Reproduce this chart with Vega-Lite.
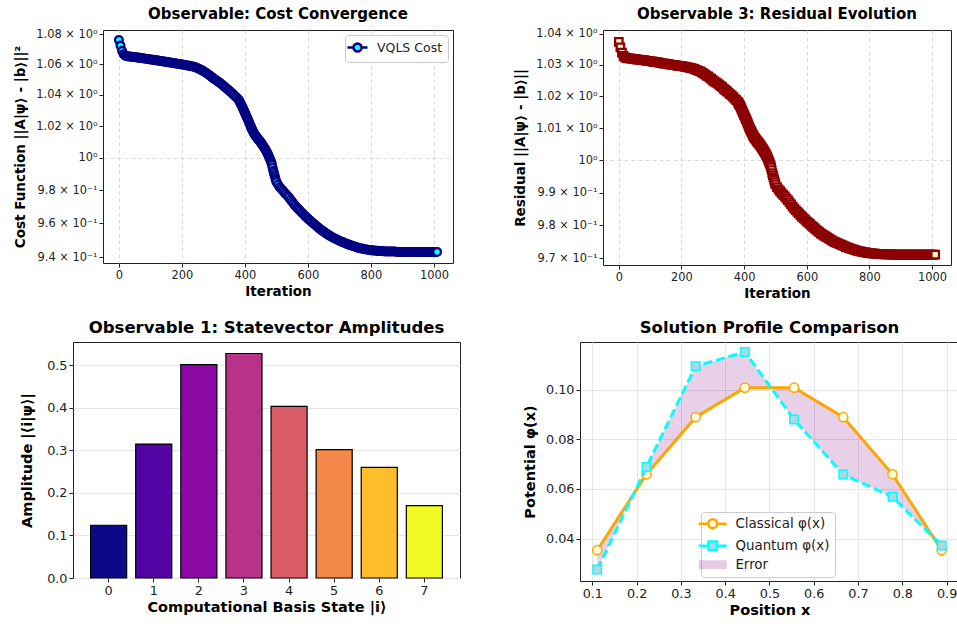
{
"$schema": "https://vega.github.io/schema/vega-lite/v6.json",
"background": "white",
"padding": {"left": 13, "top": 6, "right": 0, "bottom": 0},
"config": {
  "font": "DejaVu Sans",
  "view": {"stroke": "#222222", "strokeWidth": 1},
  "axis": {"labelFont": "DejaVu Sans", "labelColor": "#222222", "titleFont": "DejaVu Sans", "titleFontWeight": "bold", "titleColor": "#000000", "domain": false, "tickColor": "#222222", "tickSize": 4, "tickWidth": 1, "labelPadding": 2, "labelFlush": false, "labelOverlap": false},
  "title": {"font": "DejaVu Sans", "fontWeight": "bold", "color": "#000000", "offset": 6},
  "legend": {"labelFont": "DejaVu Sans", "labelColor": "#222222"}
},
"datasets": {
  "conv": [
{"i":0,"c":1.0762,"r":1.0374},{"i":5,"c":1.0725,"r":1.0356},{"i":10,"c":1.0690,"r":1.0339},{"i":15,"c":1.0668,"r":1.0329},{"i":20,"c":1.0658,"r":1.0324},{"i":25,"c":1.0655,"r":1.0322},{"i":30,"c":1.0653,"r":1.0321},{"i":35,"c":1.0652,"r":1.0321},{"i":40,"c":1.0650,"r":1.0320},{"i":45,"c":1.0649,"r":1.0319},{"i":50,"c":1.0648,"r":1.0319},{"i":55,"c":1.0647,"r":1.0318},{"i":60,"c":1.0645,"r":1.0317},{"i":65,"c":1.0644,"r":1.0317},{"i":70,"c":1.0642,"r":1.0316},{"i":75,"c":1.0641,"r":1.0315},{"i":80,"c":1.0639,"r":1.0315},{"i":85,"c":1.0638,"r":1.0314},{"i":90,"c":1.0636,"r":1.0313},{"i":95,"c":1.0635,"r":1.0313},{"i":100,"c":1.0633,"r":1.0312},{"i":105,"c":1.0631,"r":1.0311},{"i":110,"c":1.0630,"r":1.0310},{"i":115,"c":1.0628,"r":1.0309},{"i":120,"c":1.0627,"r":1.0309},{"i":125,"c":1.0625,"r":1.0308},{"i":130,"c":1.0623,"r":1.0307},{"i":135,"c":1.0622,"r":1.0306},{"i":140,"c":1.0620,"r":1.0305},{"i":145,"c":1.0618,"r":1.0304},{"i":150,"c":1.0617,"r":1.0304},{"i":155,"c":1.0615,"r":1.0303},{"i":160,"c":1.0613,"r":1.0302},{"i":165,"c":1.0612,"r":1.0301},{"i":170,"c":1.0610,"r":1.0300},{"i":175,"c":1.0608,"r":1.0299},{"i":180,"c":1.0607,"r":1.0299},{"i":185,"c":1.0605,"r":1.0298},{"i":190,"c":1.0603,"r":1.0297},{"i":195,"c":1.0602,"r":1.0297},{"i":200,"c":1.0600,"r":1.0296},{"i":205,"c":1.0598,"r":1.0295},{"i":210,"c":1.0596,"r":1.0294},{"i":215,"c":1.0594,"r":1.0293},{"i":220,"c":1.0592,"r":1.0292},{"i":225,"c":1.0590,"r":1.0291},{"i":230,"c":1.0588,"r":1.0290},{"i":235,"c":1.0586,"r":1.0289},{"i":240,"c":1.0583,"r":1.0287},{"i":245,"c":1.0579,"r":1.0285},{"i":250,"c":1.0575,"r":1.0283},{"i":255,"c":1.0570,"r":1.0281},{"i":260,"c":1.0565,"r":1.0279},{"i":265,"c":1.0559,"r":1.0276},{"i":270,"c":1.0553,"r":1.0273},{"i":275,"c":1.0547,"r":1.0270},{"i":280,"c":1.0540,"r":1.0266},{"i":285,"c":1.0532,"r":1.0263},{"i":290,"c":1.0525,"r":1.0259},{"i":295,"c":1.0516,"r":1.0255},{"i":300,"c":1.0508,"r":1.0251},{"i":305,"c":1.0501,"r":1.0247},{"i":310,"c":1.0494,"r":1.0244},{"i":315,"c":1.0487,"r":1.0241},{"i":320,"c":1.0480,"r":1.0237},{"i":325,"c":1.0471,"r":1.0233},{"i":330,"c":1.0463,"r":1.0229},{"i":335,"c":1.0454,"r":1.0224},{"i":340,"c":1.0445,"r":1.0220},{"i":345,"c":1.0436,"r":1.0216},{"i":350,"c":1.0428,"r":1.0212},{"i":355,"c":1.0419,"r":1.0207},{"i":360,"c":1.0410,"r":1.0203},{"i":365,"c":1.0400,"r":1.0198},{"i":370,"c":1.0390,"r":1.0193},{"i":375,"c":1.0380,"r":1.0188},{"i":380,"c":1.0370,"r":1.0183},
{"i":382,"c":1.0362,"r":1.0179},{"i":384,"c":1.0354,"r":1.0175},{"i":386,"c":1.0346,"r":1.0172},{"i":388,"c":1.0338,"r":1.0168},{"i":390,"c":1.0330,"r":1.0164},{"i":392,"c":1.0321,"r":1.0159},{"i":394,"c":1.0312,"r":1.0155},{"i":396,"c":1.0303,"r":1.0150},{"i":398,"c":1.0294,"r":1.0146},{"i":400,"c":1.0285,"r":1.0141},{"i":402,"c":1.0276,"r":1.0137},{"i":404,"c":1.0267,"r":1.0133},{"i":406,"c":1.0258,"r":1.0128},{"i":408,"c":1.0249,"r":1.0124},{"i":410,"c":1.0240,"r":1.0119},{"i":412,"c":1.0230,"r":1.0114},{"i":414,"c":1.0220,"r":1.0109},{"i":416,"c":1.0210,"r":1.0104},{"i":418,"c":1.0200,"r":1.0099},{"i":420,"c":1.0190,"r":1.0095},{"i":422,"c":1.0182,"r":1.0091},{"i":424,"c":1.0174,"r":1.0087},{"i":426,"c":1.0166,"r":1.0083},{"i":428,"c":1.0158,"r":1.0079},{"i":430,"c":1.0150,"r":1.0075},{"i":432,"c":1.0144,"r":1.0072},{"i":434,"c":1.0139,"r":1.0069},{"i":436,"c":1.0133,"r":1.0066},{"i":438,"c":1.0128,"r":1.0064},{"i":440,"c":1.0122,"r":1.0061},{"i":442,"c":1.0117,"r":1.0058},{"i":444,"c":1.0112,"r":1.0056},{"i":446,"c":1.0108,"r":1.0054},{"i":448,"c":1.0103,"r":1.0051},{"i":450,"c":1.0098,"r":1.0049},{"i":452,"c":1.0092,"r":1.0046},{"i":454,"c":1.0086,"r":1.0043},{"i":456,"c":1.0080,"r":1.0040},{"i":458,"c":1.0074,"r":1.0037},{"i":460,"c":1.0068,"r":1.0034},{"i":462,"c":1.0062,"r":1.0031},{"i":464,"c":1.0055,"r":1.0027},{"i":466,"c":1.0049,"r":1.0024},{"i":468,"c":1.0042,"r":1.0021},{"i":470,"c":1.0035,"r":1.0017},{"i":472,"c":1.0026,"r":1.0013},{"i":474,"c":1.0018,"r":1.0009},{"i":476,"c":1.0009,"r":1.0005},{"i":478,"c":0.9999,"r":0.9999},{"i":480,"c":0.9990,"r":0.9995},{"i":482,"c":0.9980,"r":0.9990},{"i":484,"c":0.9970,"r":0.9985},{"i":486,"c":0.9956,"r":0.9978},{"i":488,"c":0.9938,"r":0.9969},{"i":490,"c":0.9920,"r":0.9960},{"i":492,"c":0.9906,"r":0.9953},{"i":494,"c":0.9892,"r":0.9946},{"i":496,"c":0.9878,"r":0.9939},{"i":498,"c":0.9864,"r":0.9932},{"i":500,"c":0.9850,"r":0.9925},
{"i":505,"c":0.9835,"r":0.9917},{"i":510,"c":0.9820,"r":0.9910},{"i":515,"c":0.9809,"r":0.9904},{"i":520,"c":0.9798,"r":0.9898},{"i":525,"c":0.9787,"r":0.9893},{"i":530,"c":0.9777,"r":0.9888},{"i":535,"c":0.9766,"r":0.9882},{"i":540,"c":0.9755,"r":0.9877},{"i":545,"c":0.9742,"r":0.9870},{"i":550,"c":0.9730,"r":0.9864},{"i":555,"c":0.9717,"r":0.9857},{"i":560,"c":0.9705,"r":0.9851},{"i":565,"c":0.9695,"r":0.9846},{"i":570,"c":0.9685,"r":0.9841},{"i":575,"c":0.9675,"r":0.9836},{"i":580,"c":0.9665,"r":0.9831},{"i":585,"c":0.9656,"r":0.9826},{"i":590,"c":0.9646,"r":0.9821},{"i":595,"c":0.9637,"r":0.9817},{"i":600,"c":0.9628,"r":0.9812},{"i":605,"c":0.9620,"r":0.9808},{"i":610,"c":0.9611,"r":0.9804},{"i":615,"c":0.9603,"r":0.9799},{"i":620,"c":0.9595,"r":0.9795},{"i":625,"c":0.9587,"r":0.9791},{"i":630,"c":0.9579,"r":0.9787},{"i":635,"c":0.9571,"r":0.9783},{"i":640,"c":0.9563,"r":0.9779},{"i":645,"c":0.9556,"r":0.9775},{"i":650,"c":0.9550,"r":0.9772},{"i":655,"c":0.9543,"r":0.9769},{"i":660,"c":0.9537,"r":0.9766},{"i":665,"c":0.9531,"r":0.9763},{"i":670,"c":0.9525,"r":0.9760},{"i":675,"c":0.9520,"r":0.9757},{"i":680,"c":0.9514,"r":0.9754},{"i":685,"c":0.9509,"r":0.9751},{"i":690,"c":0.9505,"r":0.9749},{"i":695,"c":0.9500,"r":0.9747},{"i":700,"c":0.9496,"r":0.9745},{"i":705,"c":0.9492,"r":0.9743},{"i":710,"c":0.9488,"r":0.9741},{"i":715,"c":0.9484,"r":0.9739},{"i":720,"c":0.9480,"r":0.9737},{"i":725,"c":0.9476,"r":0.9734},{"i":730,"c":0.9473,"r":0.9733},{"i":735,"c":0.9469,"r":0.9731},{"i":740,"c":0.9466,"r":0.9729},{"i":745,"c":0.9463,"r":0.9728},{"i":750,"c":0.9460,"r":0.9726},{"i":755,"c":0.9457,"r":0.9725},{"i":760,"c":0.9454,"r":0.9723},{"i":765,"c":0.9452,"r":0.9722},{"i":770,"c":0.9450,"r":0.9721},{"i":775,"c":0.9448,"r":0.9720},{"i":780,"c":0.9446,"r":0.9719},{"i":785,"c":0.9444,"r":0.9718},{"i":790,"c":0.9443,"r":0.9718},{"i":795,"c":0.9441,"r":0.9716},{"i":800,"c":0.9440,"r":0.9716},{"i":805,"c":0.9439,"r":0.9715},{"i":810,"c":0.9438,"r":0.9715},{"i":815,"c":0.9437,"r":0.9714},{"i":820,"c":0.9436,"r":0.9714},{"i":825,"c":0.9435,"r":0.9713},{"i":830,"c":0.9435,"r":0.9713},{"i":835,"c":0.9435,"r":0.9713},{"i":840,"c":0.9434,"r":0.9713},{"i":845,"c":0.9433,"r":0.9712},{"i":850,"c":0.9433,"r":0.9712},{"i":855,"c":0.9433,"r":0.9712},{"i":860,"c":0.9432,"r":0.9712},{"i":865,"c":0.9432,"r":0.9712},{"i":870,"c":0.9432,"r":0.9712},{"i":875,"c":0.9432,"r":0.9712},{"i":880,"c":0.9431,"r":0.9711},{"i":885,"c":0.9430,"r":0.9711},{"i":890,"c":0.9430,"r":0.9711},{"i":895,"c":0.9430,"r":0.9711},{"i":900,"c":0.9430,"r":0.9711},{"i":905,"c":0.9430,"r":0.9711},{"i":910,"c":0.9430,"r":0.9711},{"i":915,"c":0.9430,"r":0.9711},{"i":920,"c":0.9430,"r":0.9711},{"i":925,"c":0.9430,"r":0.9711},{"i":930,"c":0.9430,"r":0.9711},{"i":935,"c":0.9430,"r":0.9711},{"i":940,"c":0.9430,"r":0.9711},{"i":945,"c":0.9430,"r":0.9711},{"i":950,"c":0.9430,"r":0.9711},{"i":955,"c":0.9430,"r":0.9711},{"i":960,"c":0.9430,"r":0.9711},{"i":965,"c":0.9430,"r":0.9711},{"i":970,"c":0.9430,"r":0.9711},{"i":975,"c":0.9430,"r":0.9711},{"i":980,"c":0.9430,"r":0.9711},{"i":985,"c":0.9430,"r":0.9711},{"i":990,"c":0.9430,"r":0.9711},{"i":995,"c":0.9430,"r":0.9711},{"i":1000,"c":0.9430,"r":0.9711},{"i":1005,"c":0.9430,"r":0.9711},{"i":1010,"c":0.9430,"r":0.9711}
  ],
  "amp": [
{"i":0,"a":0.124},{"i":1,"a":0.315},{"i":2,"a":0.502},{"i":3,"a":0.528},{"i":4,"a":0.4035},{"i":5,"a":0.302},{"i":6,"a":0.260},{"i":7,"a":0.170}
  ],
  "prof": [
{"x":0.1111,"cl":0.0353,"qu":0.0275},{"x":0.2222,"cl":0.0659,"qu":0.0688},{"x":0.3333,"cl":0.0889,"qu":0.1094},{"x":0.4444,"cl":0.1008,"qu":0.1152},{"x":0.5556,"cl":0.1008,"qu":0.0880},{"x":0.6667,"cl":0.0889,"qu":0.0658},{"x":0.7778,"cl":0.0659,"qu":0.0568},{"x":0.8889,"cl":0.0353,"qu":0.0372}
  ],
  "blank": [{"v": 0}]
},
"spacing": 18,
"resolve": {"scale": {"color": "independent"}, "legend": {"color": "independent"}},
"vconcat": [
 {
  "hconcat": [
   {
    "width": 30, "height": 1,
    "view": {"stroke": null},
    "data": {"name": "blank"},
    "mark": {"type": "point", "opacity": 0},
    "encoding": {}
   },
   {
    "hconcat": [
     {
      "width": 350, "height": 233,
      "title": {"text": "Observable: Cost Convergence", "fontSize": 15},
      "data": {"name": "conv"},
      "layer": [
       {
        "mark": {"type": "line", "strokeWidth": 2.5},
        "encoding": {
         "x": {"field": "i", "type": "quantitative", "scale": {"domain": [-50.5, 1060.5], "nice": false, "zero": false},
               "axis": {"values": [0,200,400,600,800,1000], "format": "d", "title": "Iteration", "labelFontSize": 11.4, "titleFontSize": 13.5, "titlePadding": 4, "grid": true, "gridDash": [4,3], "gridColor": "#dadada"}},
         "y": {"field": "c", "type": "quantitative", "scale": {"type": "log", "domain": [0.9365, 1.083], "nice": false, "zero": false},
               "axis": {"values": [0.94,0.96,0.98,1,1.02,1.04,1.06,1.08], "title": "Cost Function ||A|ψ⟩ - |b⟩||²", "labelFontSize": 11.4, "titleFontSize": 13.5, "titlePadding": 8,
                        "labelExpr": "datum.value == 1 ? '10⁰' : (datum.value < 1 ? format(datum.value*10, '.1f') + ' × 10⁻¹' : format(datum.value, '.2f') + ' × 10⁰')",
                        "grid": true, "gridDash": [4,3], "gridColor": "#dadada", "gridOpacity": {"condition": {"test": "datum.value == 1", "value": 1}, "value": 0}}},
         "color": {"datum": "VQLS Cost", "scale": {"range": ["#000080"]},
                   "legend": {"orient": "top-right", "offset": 5, "title": null, "fillColor": "white", "strokeColor": "#cccccc", "cornerRadius": 3, "padding": 5, "labelFontSize": 12.5, "labelOffset": 12, "symbolSize": 144,
                              "encode": {"symbols": {"update": {"shape": {"value": "M-1.67,0H-0.67M0.67,0H1.67M-0.67,0A0.67,0.67,0,1,1,0.67,0A0.67,0.67,0,1,1,-0.67,0Z"}, "fill": {"value": "#00ffff"}, "stroke": {"value": "#000080"}, "strokeWidth": {"value": 2.5}, "opacity": {"value": 1}}}}}}
        }
       },
       {
        "mark": {"type": "point", "shape": "circle", "filled": true, "fill": "#00ffff", "stroke": "#000080", "strokeWidth": 2.3, "size": 60, "opacity": 1},
        "encoding": {
         "x": {"field": "i", "type": "quantitative"},
         "y": {"field": "c", "type": "quantitative"}
        }
       }
      ]
     },
     {
      "width": 348, "height": 235,
      "title": {"text": "Observable 3: Residual Evolution", "fontSize": 15},
      "data": {"name": "conv"},
      "layer": [
       {
        "mark": {"type": "line", "strokeWidth": 2.5, "color": "#8b0000"},
        "encoding": {
         "x": {"field": "i", "type": "quantitative", "scale": {"domain": [-50.5, 1060.5], "nice": false, "zero": false},
               "axis": {"values": [0,200,400,600,800,1000], "format": "d", "title": "Iteration", "labelFontSize": 11.4, "titleFontSize": 13.5, "titlePadding": 4, "grid": true, "gridDash": [4,3], "gridColor": "#dadada"}},
         "y": {"field": "r", "type": "quantitative", "scale": {"type": "log", "domain": [0.968, 1.0412], "nice": false, "zero": false},
               "axis": {"values": [0.97,0.98,0.99,1,1.01,1.02,1.03,1.04], "title": "Residual ||A|ψ⟩ - |b⟩||", "labelFontSize": 11.4, "titleFontSize": 13.5, "titlePadding": 8,
                        "labelExpr": "datum.value == 1 ? '10⁰' : (datum.value < 1 ? format(datum.value*10, '.1f') + ' × 10⁻¹' : format(datum.value, '.2f') + ' × 10⁰')",
                        "grid": true, "gridDash": [4,3], "gridColor": "#dadada", "gridOpacity": {"condition": {"test": "datum.value == 1", "value": 1}, "value": 0}}}
        }
       },
       {
        "mark": {"type": "point", "shape": "square", "filled": true, "fill": "#fff6cc", "stroke": "#8b0000", "strokeWidth": 2.3, "size": 56, "opacity": 1},
        "encoding": {
         "x": {"field": "i", "type": "quantitative"},
         "y": {"field": "r", "type": "quantitative"}
        }
       }
      ]
     }
    ],
    "spacing": 150,
    "bounds": "flush",
    "resolve": {"scale": {"color": "independent"}, "legend": {"color": "independent"}}
   }
  ],
  "spacing": 0,
  "bounds": "flush",
  "resolve": {"scale": {"color": "independent"}, "legend": {"color": "independent"}}
 },
 {
  "hconcat": [
   {
    "width": 387, "height": 236,
    "title": {"text": "Observable 1: Statevector Amplitudes", "fontSize": 16.5},
    "data": {"name": "amp"},
    "mark": {"type": "bar", "stroke": "#000000", "strokeWidth": 1.2, "opacity": 1},
    "encoding": {
     "x": {"field": "i", "type": "ordinal", "scale": {"paddingInner": 0.2, "paddingOuter": 0.39},
           "axis": {"labelAngle": 0, "title": "Computational Basis State |i⟩", "labelFontSize": 12.8, "titleFontSize": 14.5, "titlePadding": 4, "grid": false}},
     "y": {"field": "a", "type": "quantitative", "scale": {"domain": [0, 0.555], "nice": false},
           "axis": {"values": [0,0.1,0.2,0.3,0.4,0.5], "format": ".1f", "title": "Amplitude |⟨i|ψ⟩|", "labelFontSize": 12.8, "titleFontSize": 14.5, "titlePadding": 12, "grid": true, "gridColor": "#e6e6e6"}},
     "color": {"field": "i", "type": "ordinal", "scale": {"range": ["#0d0887","#5302a3","#8b0aa5","#b83289","#db5c68","#f48849","#febd2a","#f0f921"]}, "legend": null}
    }
   },
   {
    "width": 379, "height": 239,
    "title": {"text": "Solution Profile Comparison", "fontSize": 16.5},
    "data": {"name": "prof"},
    "layer": [
     {
      "mark": {"type": "area", "color": "#800080", "opacity": 0.18},
      "encoding": {
       "x": {"field": "x", "type": "quantitative", "scale": {"domain": [0.0722, 0.928], "nice": false, "zero": false},
             "axis": {"values": [0.1,0.2,0.3,0.4,0.5,0.6,0.7,0.8,0.9], "format": ".1f", "title": "Position x", "labelFontSize": 12.8, "titleFontSize": 14.5, "titlePadding": 4, "grid": true, "gridColor": "#e6e6e6"}},
       "y": {"field": "cl", "type": "quantitative", "scale": {"domain": [0.0229, 0.1192], "nice": false, "zero": false},
             "axis": {"values": [0.04,0.06,0.08,0.10], "format": ".2f", "title": "Potential φ(x)", "labelFontSize": 12.8, "titleFontSize": 14.5, "titlePadding": 8, "grid": true, "gridColor": "#e6e6e6"}},
       "y2": {"field": "qu"}
      }
     },
     {
      "mark": {"type": "line", "strokeWidth": 3},
      "encoding": {
       "x": {"field": "x", "type": "quantitative"},
       "y": {"field": "cl", "type": "quantitative"},
       "color": {"datum": "Classical φ(x)",
                 "scale": {"domain": ["Classical φ(x)", "Quantum φ(x)", "Error"], "range": ["#ffa500", "#00ffff", "#800080"]},
                 "legend": {"orient": "none", "legendX": 121, "legendY": 170, "title": null, "fillColor": "white", "strokeColor": "#cccccc", "cornerRadius": 3, "padding": 5, "labelFontSize": 13.4, "labelOffset": 16, "symbolSize": 256, "rowPadding": 2,
                            "encode": {"symbols": {"update": {
                              "shape": {"signal": "datum.value === 'Error' ? 'M-1.75,-0.56H1.75V0.56H-1.75Z' : (datum.value === 'Classical φ(x)' ? 'M-1.75,0H-0.56M0.56,0H1.75M-0.56,0A0.56,0.56,0,1,1,0.56,0A0.56,0.56,0,1,1,-0.56,0Z' : 'M-1.75,0H-0.53M0.53,0H1.75M-0.53,-0.53H0.53V0.53H-0.53Z')"},
                              "fill": {"signal": "datum.value === 'Error' ? 'rgba(128,0,128,0.2)' : (datum.value === 'Classical φ(x)' ? '#ffffe0' : '#add8e6')"},
                              "stroke": {"signal": "datum.value === 'Error' ? 'transparent' : (datum.value === 'Classical φ(x)' ? '#ffa500' : '#00ffff')"},
                              "strokeWidth": {"signal": "datum.value === 'Error' ? 0 : 2.5"}, "opacity": {"value": 1}, "strokeDash": {"value": []}}}}}}
      }
     },
     {
      "mark": {"type": "point", "shape": "circle", "filled": true, "fill": "#ffffe0", "stroke": "#ffa500", "strokeWidth": 1.5, "size": 85, "opacity": 1},
      "encoding": {
       "x": {"field": "x", "type": "quantitative"},
       "y": {"field": "cl", "type": "quantitative"}
      }
     },
     {
      "mark": {"type": "line", "strokeWidth": 3, "strokeDash": [9, 4]},
      "encoding": {
       "x": {"field": "x", "type": "quantitative"},
       "y": {"field": "qu", "type": "quantitative"},
       "color": {"datum": "Quantum φ(x)"}
      }
     },
     {
      "mark": {"type": "point", "shape": "square", "filled": true, "fill": "#add8e6", "stroke": "#00ffff", "strokeWidth": 1.5, "size": 72, "opacity": 1},
      "encoding": {
       "x": {"field": "x", "type": "quantitative"},
       "y": {"field": "qu", "type": "quantitative"}
      }
     }
    ]
   }
  ],
  "spacing": 120,
  "bounds": "flush",
  "resolve": {"scale": {"color": "independent"}, "legend": {"color": "independent"}}
 }
]
}
